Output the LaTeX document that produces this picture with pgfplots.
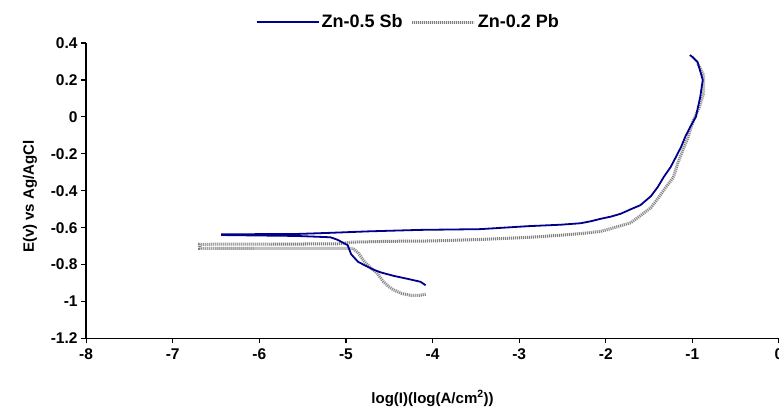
\documentclass[border=0pt]{standalone}
\usepackage{pgfplots}
\pgfplotsset{compat=1.18}
\usepackage{fontspec}
\setmainfont{Liberation Sans}
\definecolor{sbblue}{RGB}{0,0,140}
\tikzset{pbstyle/.style={draw=black!10, line width=3pt,
  postaction={draw=black!50, line width=3pt, dash pattern=on 0.8pt off 1.2pt}}}
\begin{document}
\begin{tikzpicture}
\begin{axis}[
  scale only axis,
  width=692pt, height=295pt,
  xmin=-8, xmax=0, ymin=-1.2, ymax=0.4,
  axis lines=left,
  axis line style={line width=1.4pt, -},
  xtick={-8,-7,-6,-5,-4,-3,-2,-1,0},
  ytick={-1.2,-1,-0.8,-0.6,-0.4,-0.2,0,0.2,0.4},
  tick align=outside,
  major tick length=5pt,
  tick style={black, line width=1.2pt},
  /pgf/number format/assume math mode=true,
  tick label style={font=\bfseries\fontsize{15.5}{15.5}\selectfont},
  xticklabel style={yshift=-2pt},
  xlabel={log(I)(log(A/cm\textsuperscript{2}))},
  ylabel={E(v) vs Ag/AgCl},
  label style={font=\bfseries\fontsize{15}{15}\selectfont},
  xlabel style={at={(axis description cs:0.5,0)}, anchor=center, yshift=-60pt},
  ylabel style={at={(axis description cs:0,0.48)}, anchor=center, rotate=0, yshift=56pt},
  legend style={at={(0.465,1.071)}, anchor=center, draw=none, fill=none,
    legend columns=2, font=\bfseries\fontsize{18}{18}\selectfont,
    /tikz/every even column/.append style={column sep=6pt}},
  legend image code/.code={\draw[#1] (0pt,0pt) -- (62pt,0pt);},
]
% Zn-0.2 Pb (drawn first, under the blue)
\addplot[pbstyle, forget plot] coordinates {
  (-4.08,-0.961) (-4.16,-0.967) (-4.25,-0.967) (-4.36,-0.956) (-4.45,-0.937)
  (-4.51,-0.918) (-4.57,-0.891) (-4.64,-0.847) (-4.72,-0.815) (-4.79,-0.782)
  (-4.86,-0.736) (-4.92,-0.712) (-5.10,-0.712) (-6.69,-0.712) (-6.69,-0.690)
  (-5.10,-0.688) (-4.92,-0.678) (-4.50,-0.674) (-4.02,-0.672) (-3.45,-0.664)
  (-2.87,-0.652) (-2.52,-0.641) (-2.29,-0.632) (-2.06,-0.620) (-1.94,-0.605)
  (-1.83,-0.590) (-1.71,-0.573) (-1.60,-0.535) (-1.48,-0.492) (-1.39,-0.437)
  (-1.31,-0.383) (-1.22,-0.328) (-1.17,-0.252) (-1.11,-0.180) (-1.05,-0.110)
  (-0.99,-0.020) (-0.92,0.053) (-0.87,0.130) (-0.87,0.226) (-0.94,0.290)
};
% Zn-0.5 Sb
\addplot[sbblue, line width=1.8pt] coordinates {
  (-4.08,-0.912) (-4.14,-0.893) (-4.29,-0.877) (-4.45,-0.861) (-4.60,-0.842)
  (-4.69,-0.826) (-4.77,-0.807) (-4.86,-0.785) (-4.94,-0.744) (-4.98,-0.695)
  (-5.10,-0.665) (-5.18,-0.652) (-5.56,-0.645) (-6.43,-0.640) (-6.43,-0.636)
  (-5.56,-0.634) (-5.18,-0.628) (-4.74,-0.620) (-4.14,-0.612) (-3.45,-0.608)
  (-2.90,-0.592) (-2.52,-0.584) (-2.29,-0.576) (-2.17,-0.565) (-2.06,-0.552)
  (-1.94,-0.540) (-1.83,-0.525) (-1.71,-0.500) (-1.60,-0.478) (-1.48,-0.430)
  (-1.40,-0.380) (-1.33,-0.325) (-1.25,-0.271) (-1.19,-0.217) (-1.13,-0.162)
  (-1.08,-0.105) (-1.02,-0.050) (-0.96,0.000) (-0.91,0.107) (-0.88,0.200)
  (-0.94,0.297) (-1.00,0.325) (-1.03,0.335)
};
\addlegendentry{Zn-0.5 Sb}
\addlegendimage{pbstyle}
\addlegendentry{Zn-0.2 Pb}
\coordinate (ll) at (rel axis cs:0,0);
\coordinate (ur) at (rel axis cs:1,1);
\end{axis}
\pgfresetboundingbox
\path[use as bounding box] ([xshift=-86pt,yshift=-71pt]ll) rectangle ([yshift=43pt]ur);
\end{tikzpicture}
\end{document}
